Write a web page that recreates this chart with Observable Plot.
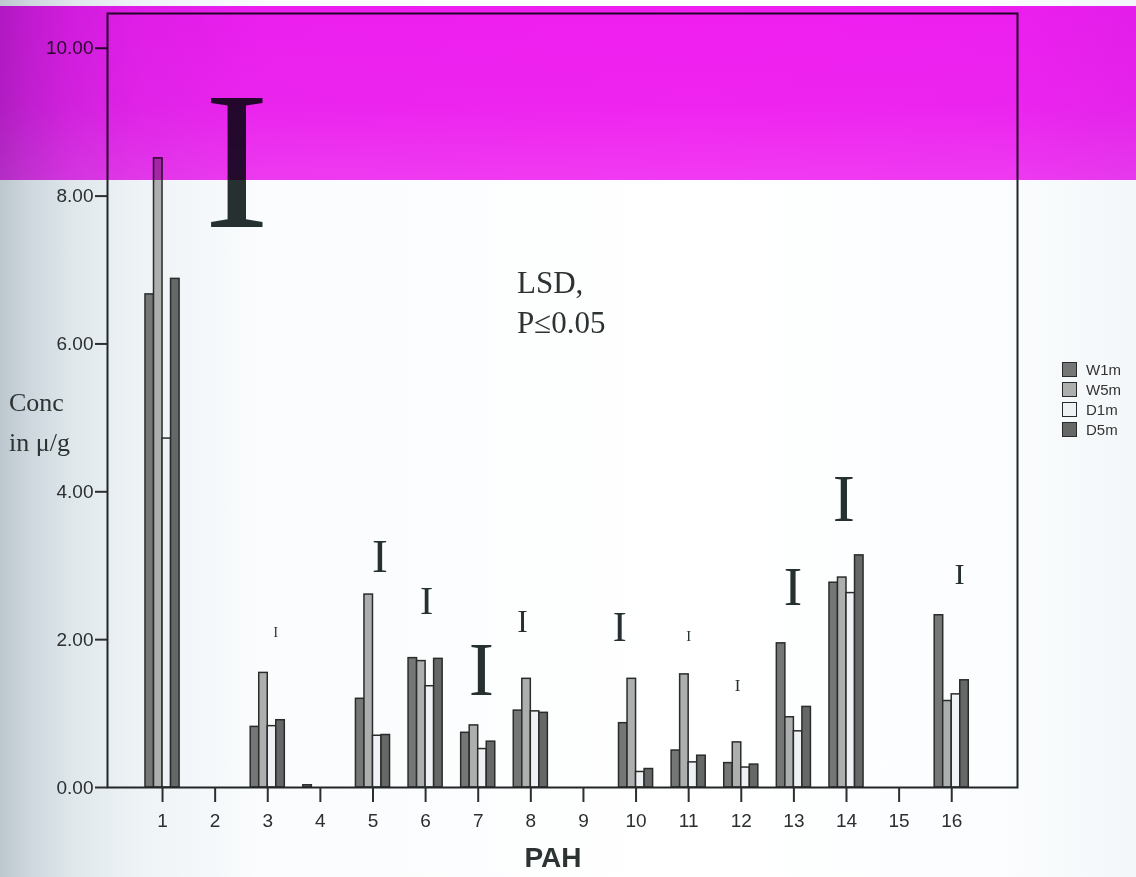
<!DOCTYPE html>
<html>
<head>
<meta charset="utf-8">
<script src="https://cdn.jsdelivr.net/npm/d3@7"></script>
<script src="https://cdn.jsdelivr.net/npm/@observablehq/plot@0.6"></script>
<style>
html, body { margin: 0; padding: 0; }
body {
  width: 1136px; height: 877px; overflow: hidden;
  background: linear-gradient(to right, #bcc7ce 0px, #cdd7dd 30px, #e0e8ec 75px, #eef3f6 140px, #fafcfd 260px, #ffffff 700px, #fbfdfe 1000px, #f3f7f9 1136px);
}
#wrap { position: relative; width: 1136px; height: 877px; }
#chart svg { display: block; }
.abs { position: absolute; white-space: nowrap; color: #2d3333; }
.serif { font-family: "Liberation Serif", "Times New Roman", serif; }
.sans { font-family: "Liberation Sans", Arial, sans-serif; }
#legend { position: absolute; left: 1062px; top: 359px; }
#legend .row { display: flex; align-items: center; height: 20px; }
#legend .sw { width: 13px; height: 13px; border: 1.5px solid #2a2a2a; margin-right: 9px; }
#legend .lb { font: 15px "Liberation Sans", Arial, sans-serif; color: #333; }
#band {
  position: absolute; left: 0; top: 6px; width: 1136px; height: 174px;
  background: linear-gradient(to bottom, #f01ef0 0px, #f024f0 100px, #f23af2 174px);
  mix-blend-mode: multiply; pointer-events: none;
}
</style>
</head>
<body>
<div id="wrap">
  <div id="chart"></div>
  <div class="abs serif" style="left:9px; top:383px; font-size:26px; line-height:40px;">Conc<br>in μ/g</div>
  <div class="abs serif" style="left:517px; top:263px; font-size:31px; line-height:40px;">LSD,<br>P≤0.05</div>
  <div class="abs sans" style="left:453px; width:200px; text-align:center; top:844px; font-size:28px; line-height:28px; font-weight:bold;">PAH</div>
  <div id="legend"></div>
  <div id="band"></div>
</div>
<script>
// ---- data ----
const pahs = [1, 2, 3, 4, 5, 6, 7, 8, 9, 10, 11, 12, 13, 14, 15, 16];
const seriesNames = ["W1m", "W5m", "D1m", "D5m"];
const W1m = [6.67, 0, 0.82, 0.03, 1.20, 1.75, 0.74, 1.04, 0, 0.87, 0.50, 0.33, 1.95, 2.77, 0, 2.33];
const W5m = [8.51, 0, 1.55, 0, 2.61, 1.71, 0.84, 1.47, 0, 1.47, 1.53, 0.61, 0.95, 2.84, 0, 1.17];
const D1m = [4.72, 0, 0.83, 0, 0.70, 1.37, 0.52, 1.03, 0, 0.21, 0.34, 0.27, 0.76, 2.63, 0, 1.26];
const D5m = [6.88, 0, 0.91, 0, 0.71, 1.74, 0.62, 1.01, 0, 0.25, 0.43, 0.31, 1.09, 3.14, 0, 1.45];
// LSD (P<=0.05) bars: group, x position (PAH units), low and high ends
const lsdGroup = [1, 3, 5, 6, 7, 8, 10, 11, 12, 13, 14, 16];
const lsdPos   = [2.41, 3.15, 5.13, 6.02, 7.06, 7.84, 9.69, 11.00, 11.93, 12.98, 13.95, 16.15];
const lsdLow   = [7.56, 2.03, 2.91, 2.34, 1.24, 2.10, 1.98, 1.98, 1.30, 2.46, 3.60, 2.75];
const lsdHigh  = [9.30, 2.15, 3.33, 2.69, 1.91, 2.38, 2.35, 2.11, 1.45, 2.95, 4.19, 3.02];
const yTicks = [0, 2, 4, 6, 8, 10];

// ---- style ----
const seriesFills = ["#757777", "#adafaf", "#eef2f5", "#666868"];
const W = 1136, H = 877, mt = 13, mb = 90, ml = 107, mr = 119;
const yMax = 10.47;
const bw = 0.162; // bar width in PAH units

const values = [W1m, W5m, D1m, D5m];
const rows = [];
seriesNames.forEach((s, i) => values[i].forEach((v, j) => {
  if (v > 0) rows.push({pah: pahs[j], series: s, si: i, value: v});
}));
const lsd = lsdGroup.map((g, i) => ({group: g, pos: lsdPos[i], lo: lsdLow[i], hi: lsdHigh[i]}));
const pxPerUnit = (H - mt - mb) / yMax;

const chart = Plot.plot({
  width: W, height: H,
  marginTop: mt, marginBottom: mb, marginLeft: ml, marginRight: mr,
  style: {background: "transparent", fontFamily: "'Liberation Sans', Arial, sans-serif", color: "#2b2f2f"},
  x: {domain: [-0.046, 17.25]},
  y: {domain: [0, yMax]},
  color: {type: "ordinal", domain: seriesNames, range: seriesFills},
  marks: [
    Plot.rect(rows, {
      x1: d => d.pah + (d.si - 2) * bw,
      x2: d => d.pah + (d.si - 1) * bw,
      y1: () => 0,
      y2: "value",
      fill: "series",
      stroke: "#2a2c2c",
      strokeWidth: 1.5
    }),
    Plot.frame({stroke: "#222626", strokeWidth: 2}),
    Plot.axisY({ticks: yTicks, tickFormat: d3.format(".2f"), tickSize: 12, tickPadding: 2, fontSize: 19, label: null, strokeWidth: 2}),
    Plot.axisX({ticks: pahs, tickFormat: d => String(d), tickSize: 15, tickPadding: 11, fontSize: 19, label: null, strokeWidth: 2}),
    Plot.text(lsd, {
      x: "pos",
      y: d => (d.lo + d.hi) / 2,
      text: () => "I",
      fontSize: d => (d.hi - d.lo) * pxPerUnit / 0.655,
      fontFamily: "'Liberation Serif', 'Times New Roman', serif",
      fill: "#263030",
      lineAnchor: "middle"
    })
  ]
});
document.getElementById("chart").appendChild(chart);

// legend
const legend = document.getElementById("legend");
seriesNames.forEach((s, i) => {
  const row = document.createElement("div");
  row.className = "row";
  const sw = document.createElement("div");
  sw.className = "sw";
  sw.style.background = seriesFills[i];
  const lb = document.createElement("div");
  lb.className = "lb";
  lb.textContent = s;
  row.appendChild(sw); row.appendChild(lb);
  legend.appendChild(row);
});
</script>
</body>
</html>
